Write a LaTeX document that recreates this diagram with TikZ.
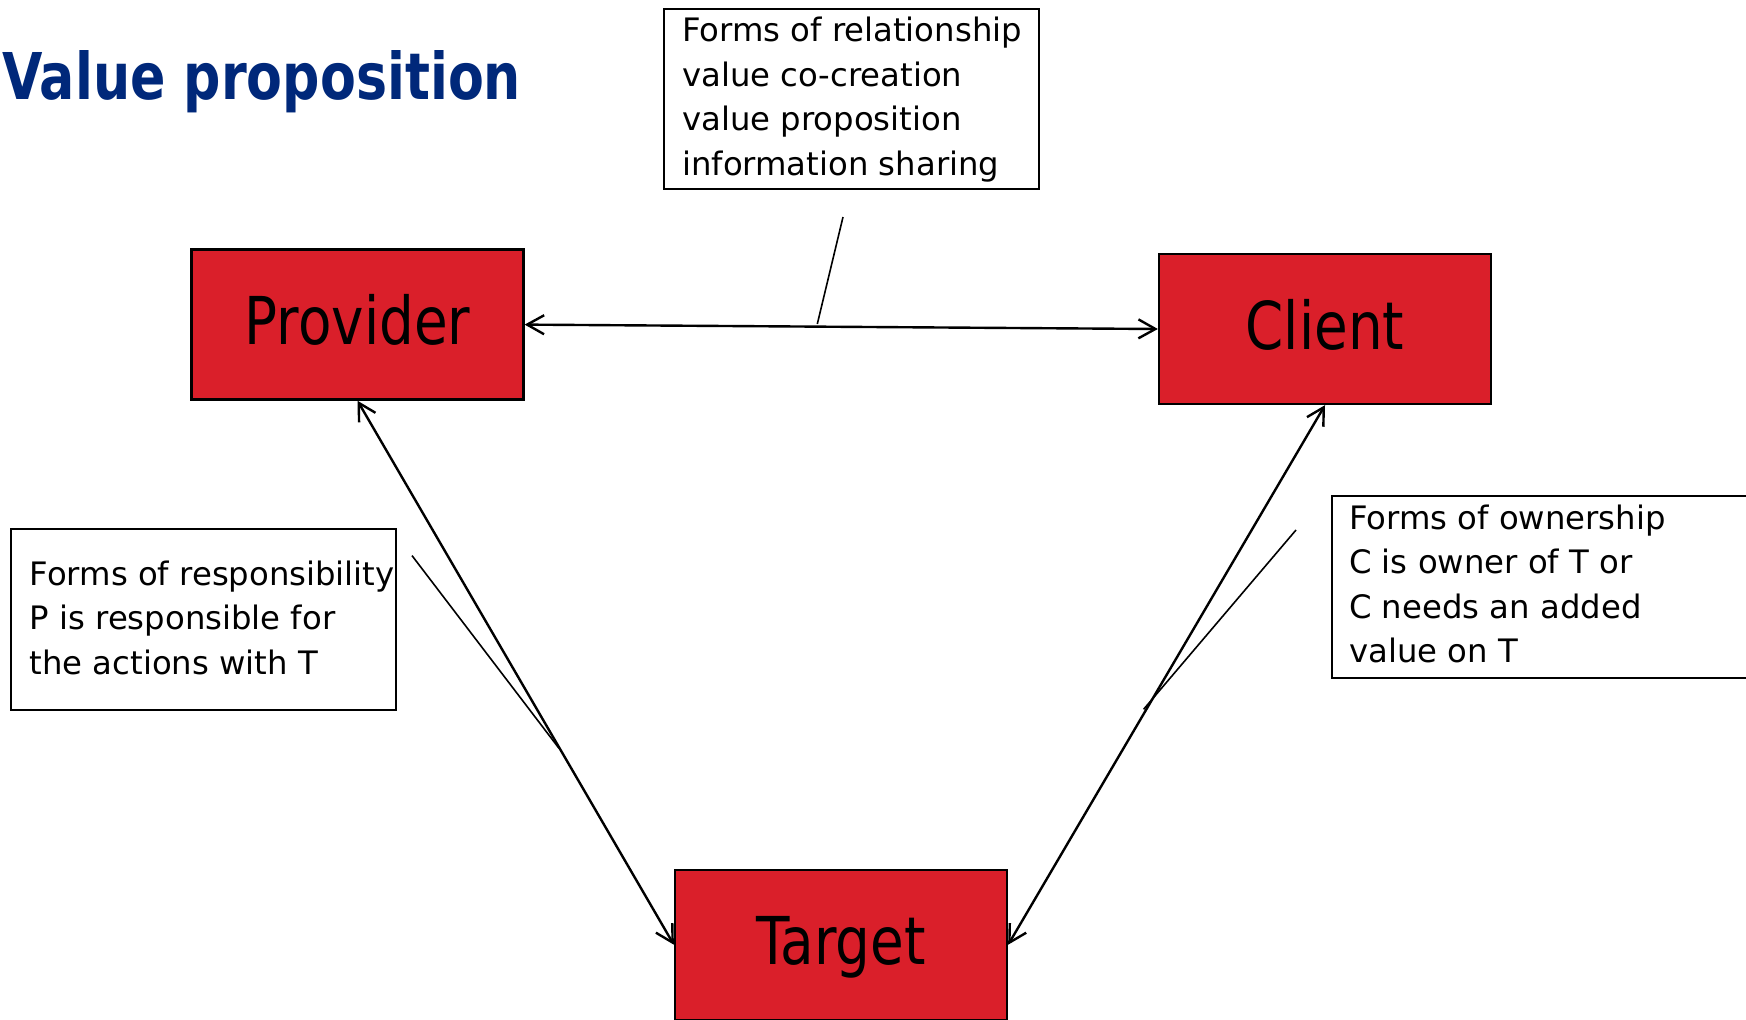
\documentclass[tikz,border=0pt]{standalone}
\usepackage{fontspec}
\setmainfont{DejaVu Sans}
\newfontfamily\labelfont[FakeStretch=0.83]{DejaVu Sans}
\newfontfamily\titlefont[FakeStretch=0.81]{DejaVu Sans}
\usetikzlibrary{arrows.meta}
\definecolor{titleblue}{RGB}{0,40,122}
\definecolor{boxred}{RGB}{218,31,42}
\begin{document}
\begin{tikzpicture}[x=1pt,y=-1pt,
  actor/.style={draw=black,line width=2.3pt,fill=boxred,minimum width=332pt,minimum height=150pt,
    inner sep=0pt,text height=50pt,text depth=10pt,font=\labelfont\fontsize{66}{70}\selectfont},
  notebox/.style={draw=black,line width=2pt,fill=white,anchor=north west,inner sep=0pt},
  notetext/.style={anchor=base west,align=left,inner sep=0pt,font=\fontsize{32.3}{44.5}\selectfont},
  link/.style={line width=2.4pt,{Straight Barb[length=17pt,width=19pt]}-{Straight Barb[length=17pt,width=19pt]}},
  callout/.style={line width=1.6pt}]
\useasboundingbox (0,0) rectangle (1746,1020);
\clip (0,0) rectangle (1746,1020);

% title
\node[anchor=base west,inner sep=0pt,text=titleblue,font=\titlefont\bfseries\fontsize{64.5}{70}\selectfont]
  (title) at (2,99) {Value proposition};

% main boxes
\node[actor] (prov) at (357.5,324.6) {Provider};
\node[actor] (client) at (1325,329) {Client};
\node[actor] (target) at (841,944.7) {Target};

% note boxes (text anchored at the baseline of its last line)
\node[notebox,minimum width=375.3pt,minimum height=180.4pt] (relbox) at (662.5,7.8) {};
\node[notetext] (reltext) at (682,175) {Forms of relationship\\value co-creation\\value proposition\\information sharing};

\node[notebox,minimum width=385pt,minimum height=181pt] (respbox) at (9.5,527.5) {};
\node[notetext] (resptext) at (29.5,674) {Forms of responsibility\\P is responsible for\\the actions with T};

\node[notebox,minimum width=430pt,minimum height=182pt] (ownbox) at (1330.5,495.3) {};
\node[notetext] (owntext) at (1349,662.7) {Forms of ownership\\C is owner of T or\\C needs an added\\value on T};

% connectors
\draw[link] (prov.east) -- (client.west);
\draw[link] (prov.south) -- (target.west);
\draw[link] (client.south) -- (target.east);

% callout lines
\coordinate (relA) at (843,217);
\coordinate (relB) at (817.3,324);
\coordinate (respA) at (412,555.6);
\coordinate (respB) at (559,748.3);
\coordinate (ownA) at (1296,530);
\coordinate (ownB) at (1143.6,709.3);
\draw[callout] (relA) -- (relB);
\draw[callout] (respA) -- (respB);
\draw[callout] (ownA) -- (ownB);
\end{tikzpicture}
\end{document}
